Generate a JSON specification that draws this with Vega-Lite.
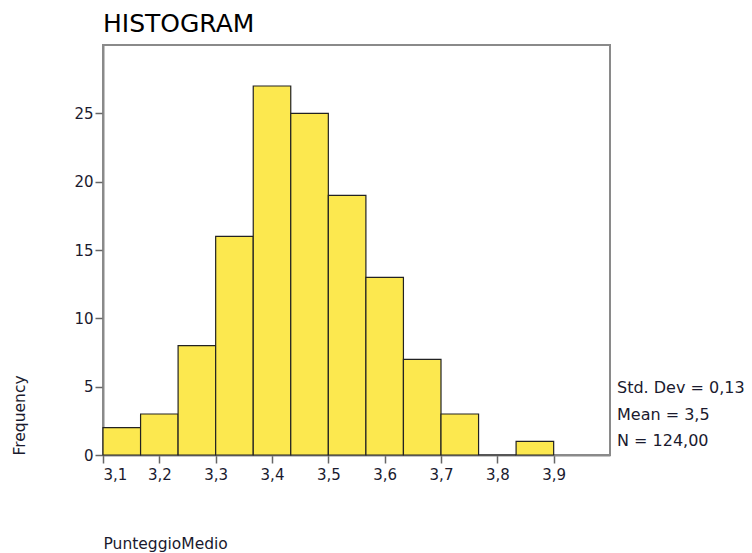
{
  "$schema": "https://vega.github.io/schema/vega-lite/v6.json",
  "autosize": {"type": "none"},
  "padding": {"left": 103, "top": 45, "right": 142, "bottom": 98},
  "width": 507,
  "height": 410,
  "config": {
    "locale": {"number": {"decimal": ",", "thousands": ".", "grouping": [3], "currency": ["", " €"]}},
    "font": "DejaVu Sans",
    "view": {"stroke": "#8a8a8a", "strokeWidth": 2},
    "axis": {"grid": false, "domainColor": "#8a8a8a", "domainWidth": 2, "tickColor": "#666666", "tickWidth": 1.5, "tickSize": 8, "labelFont": "DejaVu Sans", "labelFontSize": 15, "labelColor": "#1a1a2e", "titleFont": "DejaVu Sans", "titleFontSize": 15.5, "titleFontWeight": "normal", "titleColor": "#1a1a2e"}
  },
  "title": {"text": "HISTOGRAM", "anchor": "start", "frame": "group", "fontSize": 25, "fontWeight": "normal", "font": "DejaVu Sans", "color": "#000000", "baseline": "alphabetic", "offset": 14, "dy": 26},
  "data": {"values": [
    {"start": 3.1, "end": 3.1667, "count": 2},
    {"start": 3.1667, "end": 3.2333, "count": 3},
    {"start": 3.2333, "end": 3.3, "count": 8},
    {"start": 3.3, "end": 3.3667, "count": 16},
    {"start": 3.3667, "end": 3.4333, "count": 27},
    {"start": 3.4333, "end": 3.5, "count": 25},
    {"start": 3.5, "end": 3.5667, "count": 19},
    {"start": 3.5667, "end": 3.6333, "count": 13},
    {"start": 3.6333, "end": 3.7, "count": 7},
    {"start": 3.7, "end": 3.7667, "count": 3},
    {"start": 3.7667, "end": 3.8333, "count": 0},
    {"start": 3.8333, "end": 3.9, "count": 1}
  ]},
  "layer": [
    {
      "mark": {"type": "bar", "fill": "#fce84f", "stroke": "#222222", "strokeWidth": 1.2},
      "encoding": {
        "x": {"field": "start", "type": "quantitative", "scale": {"domain": [3.1, 4.0], "nice": false, "zero": false},
              "axis": {"values": [3.1, 3.2, 3.3, 3.4, 3.5, 3.6, 3.7, 3.8, 3.9], "format": ".1f", "title": "PunteggioMedio", "titleAnchor": "start", "titleAlign": "left", "titlePadding": 0, "titleY": 88, "titleBaseline": "middle", "labelPadding": 4}},
        "x2": {"field": "end"},
        "y": {"field": "count", "type": "quantitative", "scale": {"domain": [0, 30], "nice": false},
              "axis": {"values": [0, 5, 10, 15, 20, 25], "title": "Frequency", "titleAnchor": "start", "titleAngle": 270, "titleAlign": "left", "titleBaseline": "middle", "titleX": -84, "titleY": 410, "labelPadding": 2}},
        "y2": {"datum": 0}
      }
    },
    {
      "data": {"values": [
        {"label": "Std. Dev = 0,13", "pos": 4.9},
        {"label": "Mean = 3,5", "pos": 2.9},
        {"label": "N = 124,00", "pos": 1.0}
      ]},
      "mark": {"type": "text", "align": "left", "baseline": "middle", "dx": 7, "fontSize": 16, "font": "DejaVu Sans", "color": "#1a1a2e", "clip": false},
      "encoding": {
        "x": {"datum": 4.0, "type": "quantitative"},
        "y": {"field": "pos", "type": "quantitative"},
        "text": {"field": "label"}
      }
    }
  ]
}
